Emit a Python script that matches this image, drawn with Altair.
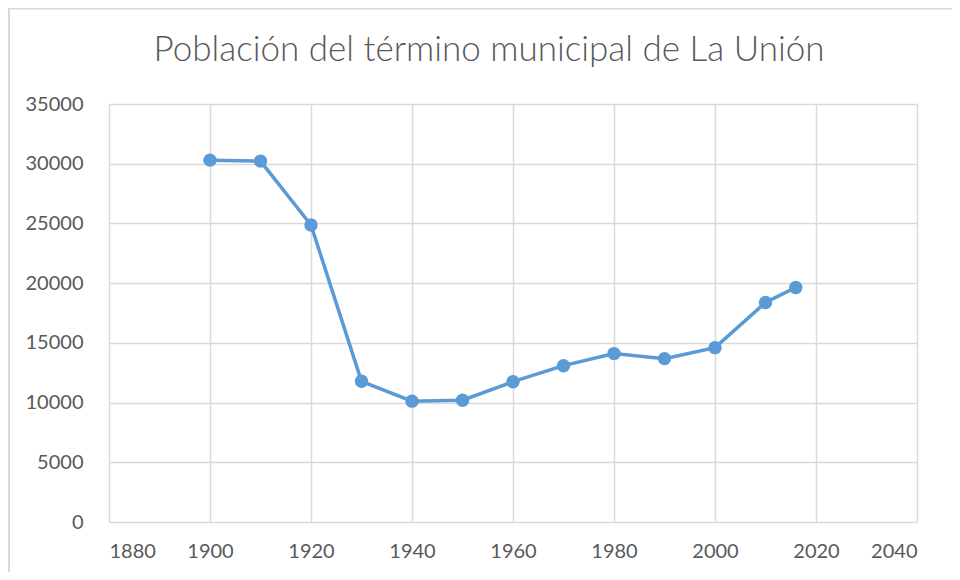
import altair as alt
import pandas as pd

years = [1900, 1910, 1920, 1930, 1940, 1950, 1960, 1970, 1980, 1990, 2000, 2010, 2016]
population = [30300, 30220, 24870, 11780, 10120, 10200, 11750, 13090, 14100, 13680, 14600, 18380, 19640]
x_ticks = [1880, 1900, 1920, 1940, 1960, 1980, 2000, 2020, 2040]
y_ticks = [0, 5000, 10000, 15000, 20000, 25000, 30000, 35000]
title_text = "Población del término municipal de La Unión"

df = pd.DataFrame({"year": years, "pop": population})
tdf = pd.DataFrame({"t": [title_text]})

GREY = "#d9d9d9"
TXT = "#595959"
BLUE = "#5b9bd5"

x_enc = alt.X("year:Q", scale=alt.Scale(domain=[1880, 2040], nice=False, zero=False),
              axis=alt.Axis(values=x_ticks, format="d", title=None, grid=True,
                            gridColor=GREY, gridWidth=1.5, domain=False, ticks=False,
                            labelFont="Lato", labelFontSize=20, labelColor=TXT,
                            labelPadding=19))
y_enc = alt.Y("pop:Q", scale=alt.Scale(domain=[0, 35000], nice=False),
              axis=alt.Axis(values=y_ticks, format="d", title=None, grid=True,
                            gridColor=GREY, gridWidth=1.5, domain=False, ticks=False,
                            labelFont="Lato", labelFontSize=20, labelColor=TXT,
                            labelPadding=26))

line = alt.Chart(df).mark_line(color=BLUE, strokeWidth=3.5).encode(x=x_enc, y=y_enc)
pts = alt.Chart(df).mark_point(color=BLUE, filled=True, opacity=1, size=180).encode(x="year:Q", y="pop:Q")

frame_left = alt.Chart(tdf).mark_rule(color=GREY, strokeWidth=2).encode(
    x=alt.value(-100), y=alt.value(-96), y2=alt.value(470))
frame_top = alt.Chart(tdf).mark_rule(color=GREY, strokeWidth=2).encode(
    x=alt.value(-100), x2=alt.value(850), y=alt.value(-95.5))

title = alt.Chart(tdf).mark_text(font="Lato", fontSize=35, fontWeight=300, color=TXT,
                                 align="center", baseline="alphabetic").encode(
    text="t:N", x=alt.value(380), y=alt.value(-43))

chart = alt.layer(frame_left, frame_top, line, pts, title).properties(
    width=808, height=418,
    autosize=alt.AutoSizeParams(type="none"),
    padding={"left": 101, "top": 96, "right": 35, "bottom": 50},
).configure_view(stroke=None)

chart.save("out.html", embed_options={"renderer": "svg", "actions": False})
